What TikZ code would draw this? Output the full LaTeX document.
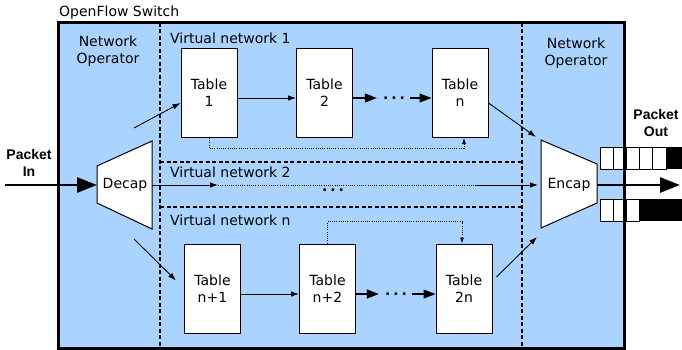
\documentclass[tikz,border=0pt]{standalone}
\usepackage{fontspec}
\setmainfont{DejaVu Sans}
\newfontfamily\packetFont{Liberation Sans}
\usetikzlibrary{arrows.meta}
\definecolor{switchBlue}{RGB}{170,212,255}
\newcommand\switchColor{switchBlue}
\newcommand\switchLineWidth{3pt}
\newcommand\tableLineWidth{1pt}
\newcommand\dashLineWidth{1.1pt}
\newcommand\arrowColor{black}
\newcommand\arrowLineWidth{0.9pt}
\newcommand\packetLineWidth{2.8pt}
\newcommand\tableWidth{56pt}
\newcommand\tableHeight{89pt}
\newcommand\textFont{\fontsize{14}{17}\selectfont}

\begin{document}
\begin{tikzpicture}[x=1pt, y=-1pt,
    every node/.style={font=\textFont},
    tablebox/.style={draw=black, fill=white, line width=\tableLineWidth, minimum width=\tableWidth, minimum height=\tableHeight, align=center, inner sep=0pt},
    link/.style={draw=\arrowColor, line width=\arrowLineWidth, -{Latex[length=8pt,width=5.5pt]}},
    hop/.style={draw=\arrowColor, line width=1.3pt, -{Triangle[length=12pt,width=9pt]}},
    pathline/.style={draw=\arrowColor, line width=0.8pt, dash pattern=on 1pt off 1.2pt},
    netline/.style={draw=black, line width=\dashLineWidth, dash pattern=on 4pt off 2.5pt},
    packetarrow/.style={draw=black, line width=\packetLineWidth, -{Triangle[length=20pt,width=15pt]}},
    dots/.style={font=\textFont\bfseries, inner sep=0pt},
    packetlabel/.style={font=\textFont\packetFont\bfseries, align=center},
    cell/.style={draw=black, fill=white, line width=0.8pt}]

    \useasboundingbox (0,0) rectangle (682,350);

    \fill[\switchColor] (58,23) rectangle (624,348);
    \node (switchLabel) [anchor=base west, inner sep=0pt] at (59,17) {OpenFlow Switch};

    \draw[netline] (160,23) -- (160,348);
    \draw[netline] (522,23) -- (522,348);
    \draw[netline] (160,162) -- (522,162);
    \draw[netline] (160,207) -- (522,207);

    \node (leftOperator) [align=center] at (108,51) {Network\\Operator};
    \node (rightOperator) [align=center] at (576,53) {Network\\Operator};

    \node (vnOne) [anchor=base west, inner sep=0pt] at (170,44) {Virtual network 1};
    \node (vnTwo) [anchor=base west, inner sep=0pt] at (170,177) {Virtual network 2};
    \node (vnN) [anchor=base west, inner sep=0pt] at (170,225) {Virtual network n};

    \foreach \name/\x/\y/\txt in {Table1/209/93/1, Table2/324.5/93/2, TableN/460/93/n,
        TableNA/212.5/288.5/n+1, TableNB/327.5/288.5/n+2, TableTwoN/464/288.5/2n}{
        \node (\name) [tablebox] at (\x,\y) {Table\\\txt};
    }

%Row one
    \node (dotsA) [dots] at (394,98) {.\hspace{3pt}.\hspace{3pt}.};
    \draw[link] ([yshift=-5pt]Table1.east) -- ([yshift=-5pt]Table2.west);
    \draw[hop] ([yshift=-5pt]Table2.east) -- ([xshift=-6pt]dotsA.west);
    \draw[hop] ([xshift=5pt]dotsA.east) -- ([yshift=-5pt]TableN.west);
    \draw[pathline, -{Latex[length=6pt,width=4pt]}] (Table1.south) -- ++(0,10) -| ([xshift=4pt]TableN.south);

%Row n
    \node (dotsB) [dots] at (396,294) {.\hspace{3pt}.\hspace{3pt}.};
    \draw[link] ([yshift=-5.5pt]TableNA.east) -- ([yshift=-5.5pt]TableNB.west);
    \draw[hop] ([yshift=-5.5pt]TableNB.east) -- ([xshift=-6pt]dotsB.west);
    \draw[hop] ([xshift=5pt]dotsB.east) -- ([yshift=-5.5pt]TableTwoN.west);
    \draw[pathline, -{Latex[length=6pt,width=4pt]}] (TableNB.north) -- ++(0,-22) -| ([xshift=-2pt]TableTwoN.north);

%Decap and Encap
    \coordinate (decapA) at (97,166);
    \coordinate (decapB) at (152,141);
    \coordinate (decapC) at (152,229);
    \coordinate (decapD) at (97,203);
    \filldraw[fill=white, draw=black, line width=\tableLineWidth] (decapA) -- (decapB) -- (decapC) -- (decapD) -- cycle;
    \node (decap) at (125,185) {Decap};

    \coordinate (encapA) at (541,140);
    \coordinate (encapB) at (597,164);
    \coordinate (encapC) at (597,203);
    \coordinate (encapD) at (541,228);
    \filldraw[fill=white, draw=black, line width=\tableLineWidth] (encapA) -- (encapB) -- (encapC) -- (encapD) -- cycle;
    \node (encap) at (569,185) {Encap};

%Virtual network 2
    \coordinate (decapOut) at (152,185);
    \coordinate (vnTwoA) at (218,185);
    \coordinate (vnTwoB) at (475,185);
    \coordinate (encapIn) at (538,185);
    \node (dotsMid) [dots] at (333,190) {.\hspace{3pt}.\hspace{3pt}.};
    \draw[link] (decapOut) -- (vnTwoA);
    \draw[pathline] (vnTwoA) -- (vnTwoB);
    \draw[link] (vnTwoB) -- (encapIn);

    \coordinate (decapUp) at (134,128);
    \coordinate (decapDown) at (134,239);
    \coordinate (encapUp) at (536,137);
    \coordinate (encapDown) at (537,237);
    \draw[link] (decapUp) -- ([yshift=-10pt]Table1.west);
    \draw[link] (decapDown) -- ([xshift=-8pt,yshift=8pt]TableNA.west);
    \draw[link] ([yshift=-10pt]TableN.east) -- (encapUp);
    \draw[link] ([xshift=4pt,yshift=11.5pt]TableTwoN.east) -- (encapDown);

%Queues
    \foreach \i in {0,...,4}{
        \draw[cell] (600+13.2*\i,147) rectangle ++(13.2,22);
    }
    \fill[black] (666,147) rectangle (682,169);
    \foreach \i in {0,1,2}{
        \draw[cell] (600+13.1*\i,199) rectangle ++(13.1,22);
    }
    \fill[black] (639.3,199) rectangle (682,221);

    \draw[line width=\switchLineWidth] (58,23) rectangle (624,348);

%Packets
    \coordinate (packetIn) at (5,185);
    \coordinate (packetOut) at (680,185);
    \node (packetInLabel) [packetlabel] at (29,163) {Packet\\In};
    \node (packetOutLabel) [packetlabel] at (656,123) {Packet\\Out};
    \draw[packetarrow] (packetIn) -- (decapA |- packetIn);
    \draw[packetarrow] (encapB |- packetOut) -- (packetOut);

\end{tikzpicture}
\end{document}
